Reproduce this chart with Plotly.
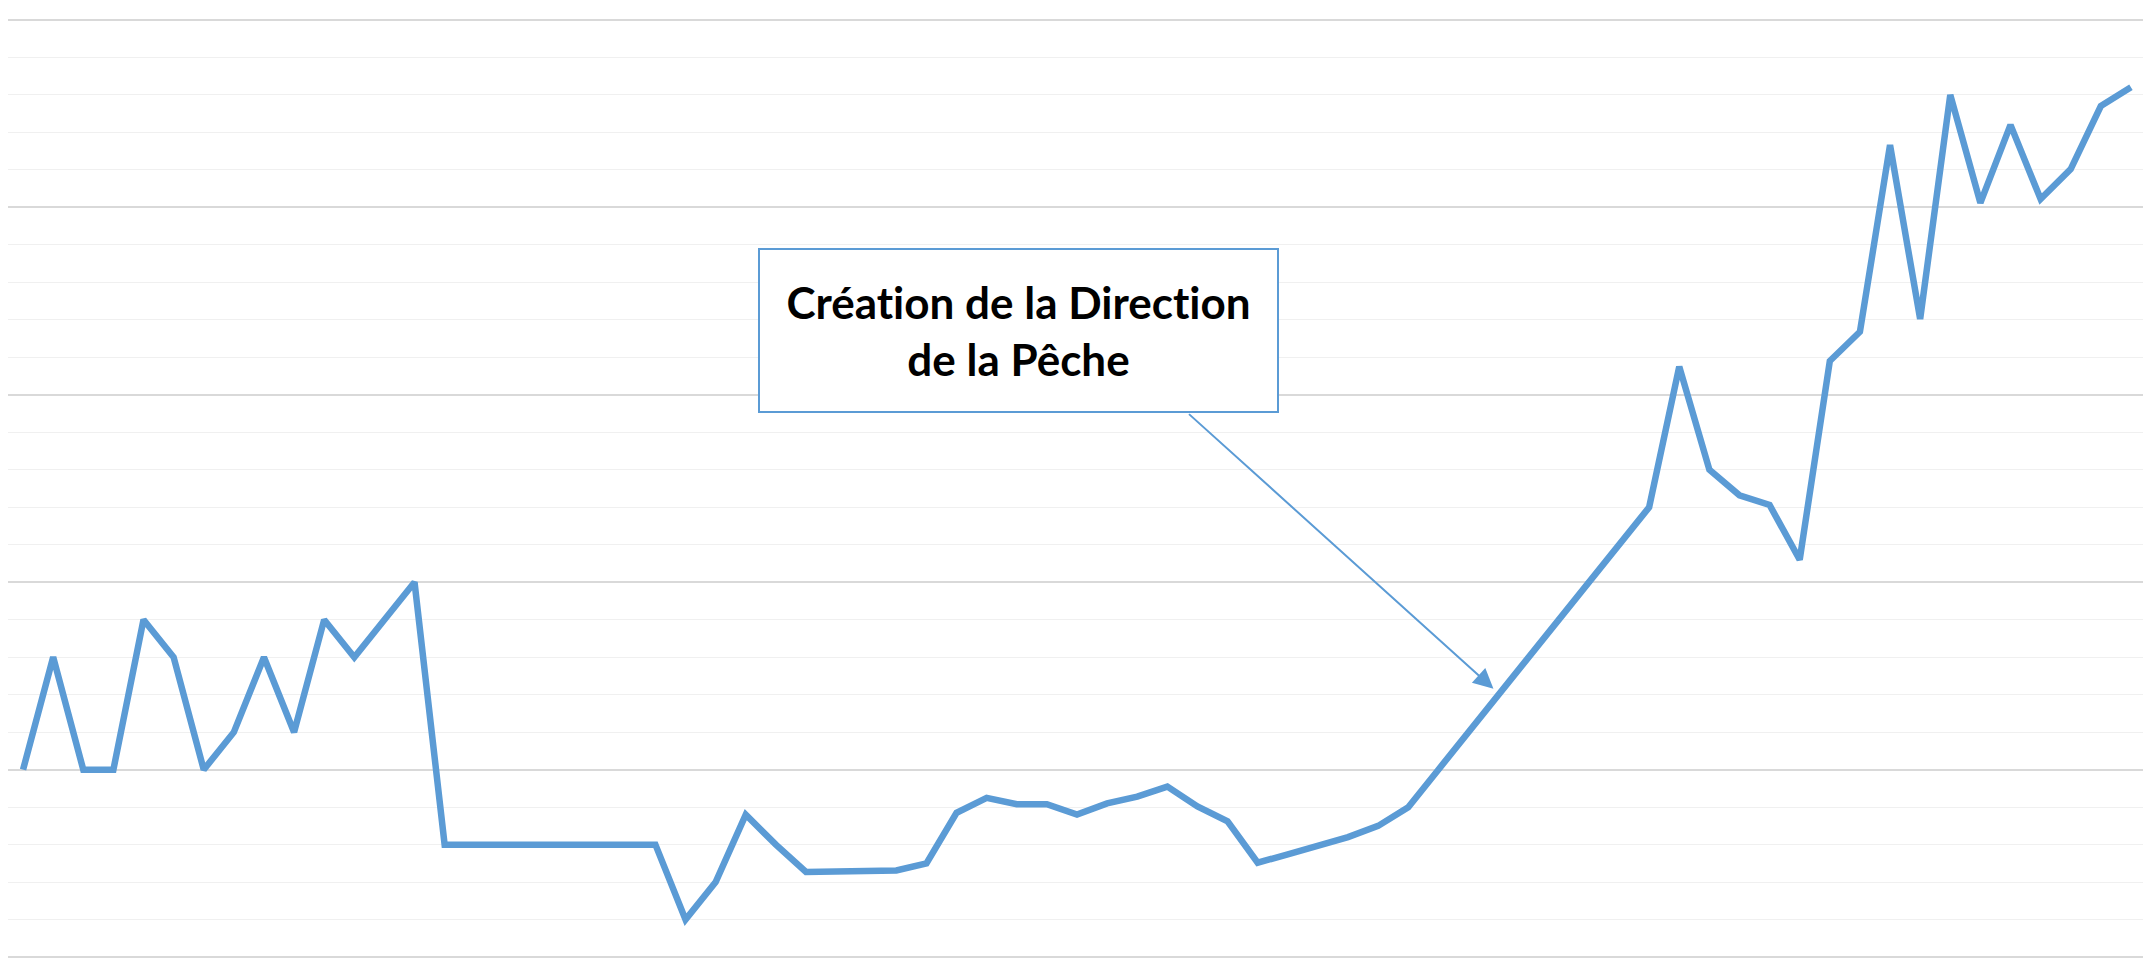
import plotly.graph_objects as go

# Category positions (one per period, no labels shown on the original chart)
periods = list(range(71))

# Series values (grid: minor = 100, major = 500)
values = [
    500, 800, 500, 500, 900, 800, 500, 600, 800, 600,
    900, 800, 900, 1000, 300, 300, 300, 300, 300, 300,
    300, 300, 100, 200, 380, 300, 227, 227, 228, 231,
    250, 385, 425, 408, 408, 380, 410, 428, 455, 402,
    362, 252, 274, 298, 320, 350, 400, 500, 600, 700,
    800, 900, 1000, 1100, 1200, 1575, 1300, 1232, 1206, 1060,
    1590, 1668, 2166, 1702, 2300, 2012, 2220, 2022, 2102, 2270,
    2320,
]

line1 = "Création de la Direction"
line2 = "de la Pêche"

BLUE = "#5B9BD5"
NOLIG = "font-variant-ligatures:none"

fig = go.Figure()
fig.add_trace(go.Scatter(
    x=periods, y=values, mode="lines",
    line=dict(color=BLUE, width=6.5),
    hoverinfo="skip", showlegend=False,
))

# Arrow (tail at the bottom of the text box, head on the curve)
fig.add_annotation(
    x=48.83, y=716, xref="x", yref="y",
    ax=38.67, ay=1452, axref="x", ayref="y",
    text="", showarrow=True,
    arrowhead=2, arrowsize=2, arrowwidth=2, arrowcolor=BLUE,
    standoff=0, startstandoff=0,
)

# Text box
fig.add_annotation(
    x=0.4726, y=0.6681, xref="paper", yref="paper",
    xanchor="center", yanchor="middle",
    text=f"<span style='{NOLIG}'>{line1}</span><br><span style='{NOLIG}'>{line2}</span>",
    showarrow=False,
    font=dict(family="Lato", size=44, color="#000000", weight="bold"),
    width=517, height=161, align="center", valign="middle",
    bgcolor="#ffffff", bordercolor=BLUE, borderwidth=2, borderpad=0,
)

fig.update_layout(
    width=2143, height=957,
    margin=dict(l=0, r=5, t=10.13, b=5.63),
    paper_bgcolor="#ffffff", plot_bgcolor="#ffffff",
    showlegend=False,
)
fig.update_xaxes(
    range=[-0.5, 70.5], showgrid=False, zeroline=False,
    showticklabels=False, ticks="", showline=False,
)
fig.update_yaxes(
    range=[-5, 2505], dtick=500, tick0=0,
    showgrid=True, gridcolor="#d9d9d9", gridwidth=1.5,
    minor=dict(dtick=100, tick0=0, showgrid=True, gridcolor="#f0f0f0", gridwidth=1.2),
    zeroline=False, showticklabels=False, ticks="", showline=False,
)

fig.write_html("out.html")
